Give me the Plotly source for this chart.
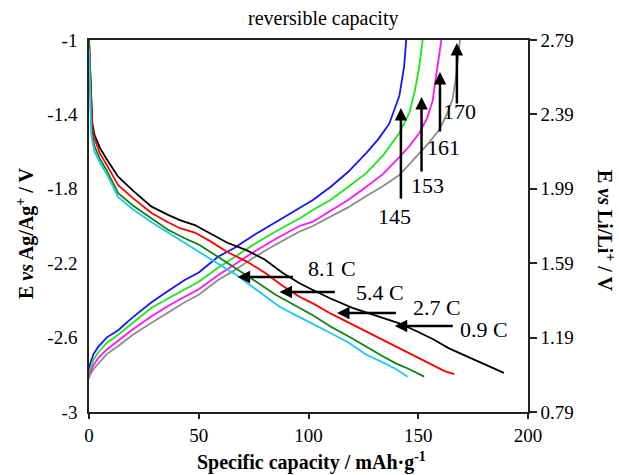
import plotly.graph_objects as go

# ---- data ----
# charge curves (rising), labelled by final capacity
blue_x = [0, 0.5, 2, 4.2, 8, 13.3, 20, 28.5, 36, 43.6, 50, 58.8, 66, 75, 85, 95.9, 102, 110, 118, 126.2, 132, 136.8, 141.4, 143.6, 144.5]
blue_y = [-2.80, -2.74, -2.69, -2.65, -2.60, -2.56, -2.49, -2.41, -2.35, -2.29, -2.25, -2.165, -2.12, -2.05, -1.98, -1.905, -1.86, -1.79, -1.71, -1.61, -1.53, -1.45, -1.30, -1.14, -1.0]

green_x = [0, 0.5, 2, 4.2, 8, 13.3, 20, 28.5, 36, 43.6, 50, 58.8, 66, 75, 85, 95.9, 102, 110, 118, 126.2, 134, 141.4, 146, 148.5, 150.5, 152]
green_y = [-2.80, -2.77, -2.72, -2.68, -2.63, -2.585, -2.52, -2.44, -2.39, -2.34, -2.30, -2.225, -2.17, -2.10, -2.03, -1.96, -1.914, -1.86, -1.79, -1.717, -1.62, -1.50, -1.39, -1.27, -1.14, -1.0]

magenta_x = [0, 0.5, 2, 4.2, 8, 13.3, 20, 28.5, 36, 43.6, 50, 58.8, 66, 75, 85, 95.9, 102, 110, 118, 126.2, 134, 141.4, 146, 150.5, 154, 156.5, 158, 159.5, 160.5]
magenta_y = [-2.81, -2.79, -2.75, -2.71, -2.665, -2.615, -2.555, -2.485, -2.43, -2.38, -2.34, -2.265, -2.21, -2.14, -2.07, -2.0, -1.977, -1.92, -1.86, -1.79, -1.72, -1.63, -1.57, -1.50, -1.42, -1.33, -1.20, -1.06, -1.0]

gray_x = [0, 0.5, 2, 4.2, 8, 13.3, 20, 28.5, 36, 43.6, 50, 58.8, 66, 75, 85, 95.9, 102, 110, 118, 126.2, 134, 141.4, 149, 155, 159.5, 163, 165.6, 167, 168.6, 169]
gray_y = [-2.82, -2.80, -2.77, -2.74, -2.69, -2.645, -2.585, -2.52, -2.465, -2.41, -2.37, -2.29, -2.24, -2.17, -2.10, -2.03, -2.0, -1.95, -1.90, -1.84, -1.785, -1.726, -1.627, -1.55, -1.484, -1.40, -1.32, -1.215, -1.05, -1.0]

# discharge curves (falling), labelled by C-rate
black_x = [0, 0.5, 1, 1.5, 2.5, 5, 8, 13.3, 20, 28.5, 36, 41.4, 48.2, 55, 63, 71.7, 80, 88, 95.9, 102, 110, 120, 130, 141.4, 150, 157, 164, 172, 180, 189]
black_y = [-1.0, -1.15, -1.35, -1.448, -1.51, -1.58, -1.64, -1.735, -1.81, -1.896, -1.94, -1.968, -1.995, -2.04, -2.09, -2.13, -2.18, -2.25, -2.308, -2.344, -2.39, -2.44, -2.48, -2.523, -2.57, -2.61, -2.658, -2.70, -2.745, -2.79]

red_x = [0, 0.5, 1, 1.5, 2.5, 5, 8, 13.3, 20, 28.5, 36, 41.4, 48.2, 55, 63, 71.7, 80, 88, 95.9, 102, 110, 120, 130, 141.4, 150, 157, 162, 166.4]
red_y = [-1.0, -1.2, -1.40, -1.47, -1.53, -1.61, -1.67, -1.78, -1.85, -1.93, -1.98, -2.012, -2.035, -2.08, -2.14, -2.19, -2.25, -2.32, -2.38, -2.416, -2.47, -2.53, -2.59, -2.658, -2.71, -2.75, -2.78, -2.796]

dgreen_x = [0, 0.5, 1, 1.5, 2.5, 5, 8, 13.3, 20, 28.5, 36, 43.6, 50, 58, 66, 75, 85, 94.4, 102, 110, 120, 133.8, 140, 146, 152.7]
dgreen_y = [-1.0, -1.25, -1.45, -1.51, -1.57, -1.64, -1.70, -1.824, -1.89, -1.96, -2.02, -2.066, -2.10, -2.16, -2.22, -2.29, -2.37, -2.43, -2.48, -2.54, -2.605, -2.70, -2.74, -2.77, -2.81]

cyan_x = [0, 0.5, 1, 1.5, 2.5, 5, 8, 13.3, 20, 28.5, 39, 45, 52, 60, 68, 76, 86.8, 95.9, 102, 110, 118, 126, 135, 140, 145.2]
cyan_y = [-1.05, -1.3, -1.5, -1.54, -1.60, -1.66, -1.72, -1.845, -1.91, -1.98, -2.057, -2.10, -2.15, -2.21, -2.27, -2.34, -2.434, -2.49, -2.525, -2.575, -2.625, -2.69, -2.74, -2.77, -2.81]

# axes ticks
x_ticks = [0, 50, 100, 150, 200]
x_ticktext = ["0", "50", "100", "150", "200"]
y_ticks = [-1, -1.4, -1.8, -2.2, -2.6, -3]
y_ticktext = ["-1", "-1.4", "-1.8", "-2.2", "-2.6", "-3"]
y2_ticks = [2.79, 2.39, 1.99, 1.59, 1.19, 0.79]
y2_ticktext = ["2.79", "2.39", "1.99", "1.59", "1.19", "0.79"]

# annotations: capacities (vertical arrows) and rates (horizontal arrows)
cap_labels = ["145", "153", "161", "170"]
cap_arrow_x = [142.1, 151.5, 159.9, 167.6]
cap_arrow_tail = [-1.86, -1.715, -1.50, -1.35]
cap_arrow_head = [-1.366, -1.306, -1.172, -1.016]
cap_text_x = [139.1, 154.1, 161.4, 168.6]
cap_text_y = [-1.95, -1.78, -1.58, -1.387]

rate_labels = ["8.1 C", "5.4 C", "2.7 C", "0.9 C"]
rate_arrow_y = [-2.274, -2.355, -2.468, -2.538]
rate_arrow_tail = [93.6, 112.7, 140.5, 166.4]
rate_arrow_head = [67.7, 86.8, 113.0, 139.3]
rate_text_x = [110.5, 132.7, 158.6, 180.0]
rate_text_y = [-2.226, -2.36, -2.44, -2.554]

FONT = "'Liberation Serif', 'Times New Roman', Times, serif"

fig = go.Figure()
series = [
    (blue_x, blue_y, "#1414ff"),
    (green_x, green_y, "#1ee61e"),
    (magenta_x, magenta_y, "#ff14ff"),
    (gray_x, gray_y, "#8c8c8c"),
    (black_x, black_y, "#000000"),
    (red_x, red_y, "#ff0000"),
    (dgreen_x, dgreen_y, "#0f820f"),
    (cyan_x, cyan_y, "#1ec8f5"),
]
for xs, ys, c in series:
    fig.add_trace(go.Scatter(x=xs, y=ys, mode="lines", line=dict(color=c, width=1.8),
                             showlegend=False, hoverinfo="skip"))

# invisible trace to activate the right axis
fig.add_trace(go.Scatter(x=[x_ticks[0]], y=[y2_ticks[0]], yaxis="y2", mode="markers",
                         marker=dict(opacity=0), showlegend=False, hoverinfo="skip"))

ann = []
for lab, x, t, h, tx, ty in zip(cap_labels, cap_arrow_x, cap_arrow_tail, cap_arrow_head, cap_text_x, cap_text_y):
    ann.append(dict(x=x, y=h, ax=x, ay=t, xref="x", yref="y", axref="x", ayref="y", text="",
                    showarrow=True, arrowhead=2, arrowsize=1, arrowwidth=2.5, arrowcolor="black", standoff=0))
    ann.append(dict(x=tx, y=ty, xref="x", yref="y", text=lab, showarrow=False,
                    font=dict(family=FONT, size=22, color="black"), xanchor="center", yanchor="middle"))
for lab, y, t, h, tx, ty in zip(rate_labels, rate_arrow_y, rate_arrow_tail, rate_arrow_head, rate_text_x, rate_text_y):
    ann.append(dict(x=h, y=y, ax=t, ay=y, xref="x", yref="y", axref="x", ayref="y", text="",
                    showarrow=True, arrowhead=2, arrowsize=1, arrowwidth=2.5, arrowcolor="black", standoff=0))
    ann.append(dict(x=tx, y=ty, xref="x", yref="y", text=lab, showarrow=False,
                    font=dict(family=FONT, size=22, color="black"), xanchor="center", yanchor="middle"))

# titles
ann.append(dict(x=0.533, y=1.059, xref="paper", yref="paper", text="reversible capacity", showarrow=False,
                font=dict(family=FONT, size=20, color="black"), xanchor="center", yanchor="middle"))
ann.append(dict(x=0.5057, y=-0.134, xref="paper", yref="paper",
                text="<b>Specific capacity / mAh·g<sup>-1</sup></b>", showarrow=False,
                font=dict(family=FONT, size=20, color="black"), xanchor="center", yanchor="middle"))
ann.append(dict(x=-0.1458, y=0.481, xref="paper", yref="paper",
                text="<b>E <i>vs</i> Ag/Ag<sup>+</sup> / V</b>", showarrow=False, textangle=-90,
                font=dict(family=FONT, size=20, color="black"), xanchor="center", yanchor="middle"))
ann.append(dict(x=1.1777, y=0.4866, xref="paper", yref="paper",
                text="<b>E <i>vs</i> Li/Li<sup>+</sup> / V</b>", showarrow=False, textangle=90,
                font=dict(family=FONT, size=20, color="black"), xanchor="center", yanchor="middle"))

fig.update_layout(
    width=619, height=475,
    margin=dict(l=89, r=91, t=40, b=63),
    paper_bgcolor="white", plot_bgcolor="white",
    font=dict(family=FONT, size=19, color="black"),
    annotations=ann,
    xaxis=dict(range=[0, 200], tickmode="array", tickvals=x_ticks, ticktext=x_ticktext,
               showgrid=False, zeroline=False, showline=True, linecolor="#222", linewidth=1.5,
               mirror=True, ticks="outside", ticklen=5, tickcolor="#222", tickwidth=1.5,
               tickfont=dict(family=FONT, size=19)),
    yaxis=dict(range=[-3, -1], tickmode="array", tickvals=y_ticks, ticktext=y_ticktext,
               showgrid=False, zeroline=False, showline=True, linecolor="#222", linewidth=1.5,
               ticks="", ticklabelstandoff=6, tickfont=dict(family=FONT, size=19)),
    yaxis2=dict(range=[0.79, 2.79], overlaying="y", side="right", anchor="x",
                tickmode="array", tickvals=y2_ticks, ticktext=y2_ticktext,
                showgrid=False, zeroline=False, showline=True, linecolor="#222", linewidth=1.5,
                ticks="outside", ticklen=7, tickcolor="#222", tickwidth=1.5,
                tickfont=dict(family=FONT, size=19)),
)

fig.write_html("out.html")
